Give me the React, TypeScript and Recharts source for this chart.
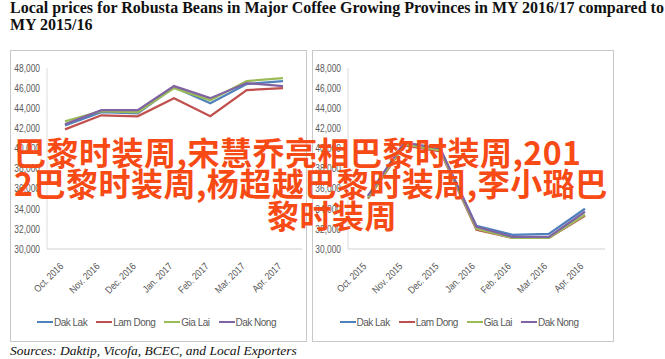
import React from "react";
import { LineChart, Line, XAxis, YAxis, Legend } from "recharts";

const provinces = ["Dak Lak", "Lam Dong", "Gia Lai", "Dak Nong"];
const lineColors = ["#4f81bd", "#c0504d", "#9bbb59", "#8064a2"];

const months1617 = ["Oct. 2016", "Nov. 2016", "Dec. 2016", "Jan. 2017", "Feb. 2017", "Mar. 2017", "Apr. 2017"];
const months1516 = ["Oct. 2015", "Nov. 2015", "Dec. 2015", "Jan. 2016", "Feb. 2016", "Mar. 2016", "Apr. 2016"];

// MY 2016/17 (VND/kg)
const dakLak1617 = [42300, 43600, 43500, 46100, 44500, 46400, 46700];
const lamDong1617 = [41900, 43300, 43200, 45000, 43200, 45800, 46000];
const giaLai1617 = [42700, 43700, 43600, 46000, 44800, 46700, 47000];
const dakNong1617 = [42400, 43800, 43800, 46200, 45000, 46500, 46200];

// MY 2015/16 (VND/kg)
const dakLak1516 = [35200, 40500, 39900, 32300, 31400, 31500, 34000];
const lamDong1516 = [35000, 40300, 39700, 31900, 31100, 31100, 33300];
const giaLai1516 = [35100, 40400, 39800, 32000, 31100, 31100, 33400];
const dakNong1516 = [35300, 40600, 40000, 32200, 31200, 31200, 33700];

const yTicks = [30000, 32000, 34000, 36000, 38000, 40000, 42000, 44000, 46000, 48000];

const titleText = "Local prices for Robusta Beans in Major Coffee Growing Provinces in MY 2016/17 compared to";
const titleText2 = "MY 2015/16";
const sourceText = "Sources: Daktip, Vicofa, BCEC, and Local Exporters";
const overlayLines = [
  "巴黎时装周,宋慧乔亮相巴黎时装周,201",
  "2巴黎时装周,杨超越巴黎时装周,李小璐巴",
  "黎时装周",
];

const axisFont = '"Liberation Sans", Arial, sans-serif';
const axisGrey = "#595959";

function SlantTick(props: any) {
  const { x, y, payload } = props;
  return (
    <g transform={`translate(${x - 1},${y + 10}) rotate(-45) scale(0.85,1)`}>
      <text x={0} y={0} textAnchor="end" fontSize={10} fill={axisGrey} fontFamily={axisFont}>
        {payload.value}
      </text>
    </g>
  );
}

function ValueTick(props: any) {
  const { x, y, payload } = props;
  return (
    <g transform={`translate(${x},${y}) scale(0.8,1)`}>
      <text x={0} y={0} dy="0.355em" textAnchor="end" fontSize={10.5} fill={axisGrey} fontFamily={axisFont}>
        {Number(payload.value).toLocaleString("en-US")}
      </text>
    </g>
  );
}

function LegendRow() {
  return (
    <div
      style={{
        display: "flex",
        justifyContent: "center",
        alignItems: "center",
        height: 14,
        fontFamily: axisFont,
        fontSize: 10,
        letterSpacing: -0.5,
        color: axisGrey,
      }}
    >
      {provinces.map((p, i) => (
        <div key={p} style={{ display: "flex", alignItems: "center", marginRight: i < provinces.length - 1 ? 9 : 0 }}>
          <span style={{ display: "inline-block", width: 16, height: 2, background: lineColors[i], marginRight: 1 }} />
          <span>{p}</span>
        </div>
      ))}
    </div>
  );
}

function Panel(props: {
  left: number;
  width: number;
  months: string[];
  series: number[][];
  yWidth: number;
  rightMargin: number;
  pad: { left: number; right: number };
}) {
  const { left, width, months, series, yWidth, rightMargin, pad } = props;
  const rows = months.map((m, i) => {
    const r: any = { month: m };
    provinces.forEach((p, k) => (r[p] = series[k][i]));
    return r;
  });
  return (
    <div
      style={{
        position: "absolute",
        left,
        top: 50,
        width,
        height: 292,
        border: "1px solid #c8c8c8",
        boxSizing: "border-box",
        background: "#fff",
      }}
    >
      <LineChart width={width - 2} height={290} data={rows} margin={{ top: 17, right: rightMargin, bottom: 12, left: 0 }}>
        <XAxis
          dataKey="month"
          interval={0}
          padding={pad}
          height={66}
          tickLine={false}
          axisLine={{ stroke: "#d0d0d0" }}
          tick={<SlantTick />}
        />
        <YAxis
          type="number"
          domain={[30000, 48000]}
          ticks={yTicks}
          interval={0}
          width={yWidth}
          tickSize={5}
          tickMargin={2}
          tickLine={false}
          axisLine={{ stroke: "#dcdcdc" }}
          tick={<ValueTick />}
        />
        <Legend verticalAlign="bottom" content={() => <LegendRow />} wrapperStyle={{ height: 14 }} />
        {provinces.map((p, i) => (
          <Line
            key={p}
            type="linear"
            dataKey={p}
            stroke={lineColors[i]}
            strokeWidth={2.25}
            dot={false}
            isAnimationActive={false}
          />
        ))}
      </LineChart>
    </div>
  );
}

export default function App() {
  return (
    <div style={{ position: "absolute", left: 0, top: 0, width: 665, height: 359, overflow: "hidden", background: "#fff" }}>
      <div
        style={{
          position: "absolute",
          left: 10,
          top: -1,
          width: 700,
          fontFamily: '"Liberation Serif", "Times New Roman", serif',
          fontWeight: 700,
          fontSize: 16,
          lineHeight: "17px",
          color: "#111",
          whiteSpace: "nowrap",
        }}
      >
        <div>{titleText}</div>
        <div>{titleText2}</div>
      </div>

      <Panel
        left={10}
        width={297}
        months={months1617}
        series={[dakLak1617, lamDong1617, giaLai1617, dakNong1617]}
        yWidth={36}
        rightMargin={4}
        pad={{ left: 18, right: 19 }}
      />
      <Panel
        left={312}
        width={302}
        months={months1516}
        series={[dakLak1516, lamDong1516, giaLai1516, dakNong1516]}
        yWidth={35}
        rightMargin={8}
        pad={{ left: 20, right: 20 }}
      />

      <div
        style={{
          position: "absolute",
          left: 10,
          top: 343,
          fontFamily: '"Liberation Serif", "Times New Roman", serif',
          fontStyle: "italic",
          fontSize: 13.5,
          lineHeight: "15px",
          color: "#111",
          whiteSpace: "nowrap",
        }}
      >
        {sourceText}
      </div>

      {overlayLines.map((t, i) => (
        <div
          key={i}
          style={{
            position: "absolute",
            left: i === 2 ? 267 : 14,
            top: [135, 166, 198][i],
            fontFamily: '"Noto Sans CJK SC", "Noto Sans", sans-serif',
            fontWeight: 700,
            fontSize: 32,
            letterSpacing: 0.5,
            lineHeight: 1,
            color: "#f84a14",
            whiteSpace: "nowrap",
          }}
        >
          {t}
        </div>
      ))}
    </div>
  );
}
